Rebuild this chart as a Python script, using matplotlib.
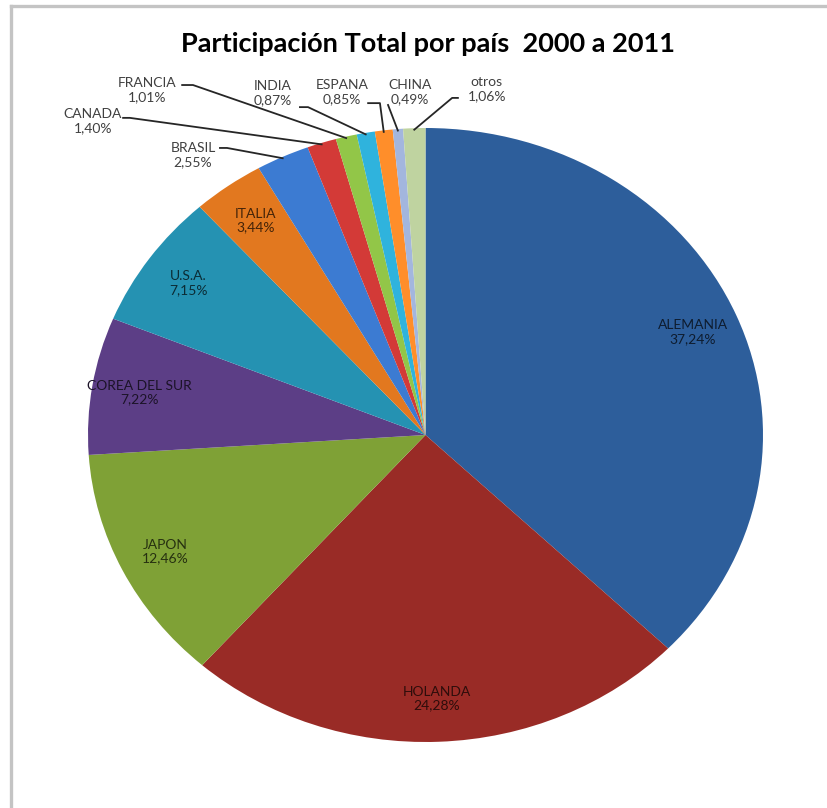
import matplotlib
matplotlib.use("Agg")
import matplotlib.pyplot as plt
from matplotlib.lines import Line2D
import numpy as np

plt.rcParams['font.family'] = ['Lato', 'DejaVu Sans']

paises = ['ALEMANIA', 'HOLANDA', 'JAPON', 'COREA DEL SUR', 'U.S.A.', 'ITALIA',
          'BRASIL', 'CANADA', 'FRANCIA', 'INDIA', 'ESPANA', 'CHINA', 'otros']
porcentajes = [37.24, 24.28, 12.46, 7.22, 7.15, 3.44,
               2.55, 1.40, 1.01, 0.87, 0.85, 0.49, 1.06]

colores = ['#2d5e9b', '#992b26', '#7fa136', '#5c3e86', '#2592b2', '#e2781f',
           '#3c7bd2', '#d33a37', '#92c648', '#2fb3dd', '#ff8e2a', '#a3b6de', '#bfd3a0']

# etiquetas fuera de la torta: texto, inicio de la guia y quiebre horizontal
fuera = {
    'BRASIL':  ((-0.689, 0.912), (-0.609, 0.935), (-0.588, 0.935)),
    'CANADA':  ((-0.985, 1.023), (-0.896, 1.033), (-0.876, 1.033)),
    'FRANCIA': ((-0.825, 1.124), (-0.721, 1.140), (-0.689, 1.140)),
    'INDIA':   ((-0.452, 1.114), (-0.372, 1.068), (-0.348, 1.068)),
    'ESPANA':  ((-0.247, 1.117), (-0.170, 1.081), (-0.135, 1.081)),
    'CHINA':   ((-0.046, 1.117), (-0.111, 1.075), (-0.111, 1.075)),
    'otros':   ((0.182, 1.127), (0.096, 1.098), (0.079, 1.098)),
}

fig = plt.figure(figsize=(8.27, 8.08), dpi=100)
ax = fig.add_axes([88/827, 66/808, 675/827, 614/808])

wedges, _ = ax.pie(porcentajes, colors=colores, startangle=90, counterclock=False,
                   wedgeprops=dict(linewidth=0))
ax.set_aspect('auto')
ax.set_xlim(-1, 1)
ax.set_ylim(-1, 1)

for w, nombre, v, c in zip(wedges, paises, porcentajes, colores):
    txt = nombre + '\n' + f'{v:.2f}'.replace('.', ',') + '%'
    mid = np.deg2rad((w.theta1 + w.theta2) / 2)
    if nombre in fuera:
        (tx, ty), (sx, sy), (kx, ky) = fuera[nombre]
        ax.text(tx, ty, txt, ha='center', va='center', fontsize=10,
                color='#404040', linespacing=1.15)
        ax.plot([sx, kx, np.cos(mid)], [sy, ky, np.sin(mid) * 0.995],
                color='#262626', lw=1.3, clip_on=False)
    else:
        rgb = np.array(matplotlib.colors.to_rgb(c)) * 0.3
        ax.text(0.86 * np.cos(mid), 0.86 * np.sin(mid), txt, ha='center', va='center',
                fontsize=10, color=rgb, linespacing=1.15)

fig.text(428/827, 1 - 44/808, 'Participación Total por país  2000 a 2011',
         ha='center', va='center', fontsize=19.5, fontweight='bold', color='black')

# borde del area del grafico
fig.add_artist(Line2D([10.5/827, 10.5/827], [0, 1 - 5.5/808], color='#c4c4c4', lw=2.4))
fig.add_artist(Line2D([10.5/827, 1], [1 - 5.5/808, 1 - 5.5/808], color='#c4c4c4', lw=2.4))

fig.savefig('out.png', dpi=100, facecolor='white')
